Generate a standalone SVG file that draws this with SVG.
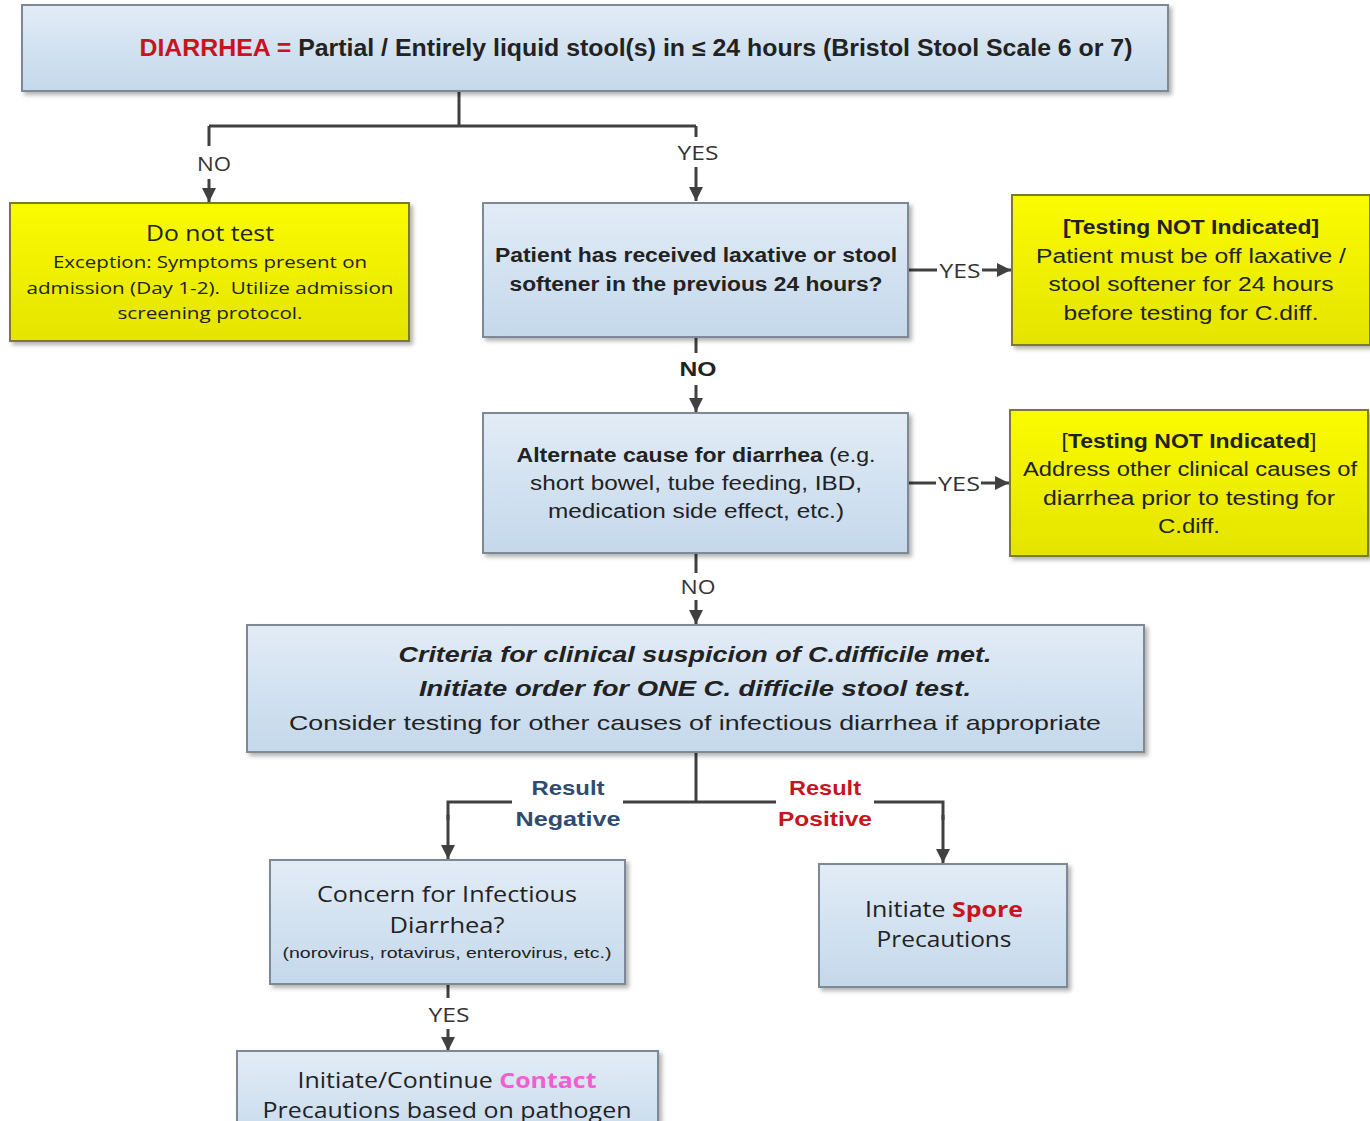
<svg xmlns="http://www.w3.org/2000/svg" width="1370" height="1121" viewBox="0 0 1370 1121">
<defs>
  <linearGradient id="gBlue" x1="0" y1="0" x2="0" y2="1">
    <stop offset="0" stop-color="#e2ecf6"/>
    <stop offset="1" stop-color="#c4d8eb"/>
  </linearGradient>
  <linearGradient id="gYel" x1="0" y1="0" x2="0" y2="1">
    <stop offset="0" stop-color="#fbfb00"/>
    <stop offset="1" stop-color="#e4e400"/>
  </linearGradient>
  <filter id="sh" x="-5%" y="-5%" width="115%" height="125%">
    <feDropShadow dx="3" dy="3" stdDeviation="2" flood-color="#000" flood-opacity="0.3"/>
  </filter>
  <marker id="arr" markerUnits="userSpaceOnUse" markerWidth="16" markerHeight="16" refX="14" refY="7" orient="auto">
    <path d="M0,0 L14,7 L0,14 z" fill="#404040"/>
  </marker>
  <style>
    .blue{fill:url(#gBlue);stroke:#7d8994;stroke-width:2;filter:url(#sh)}
    .yel{fill:url(#gYel);stroke:#7a7a30;stroke-width:2;filter:url(#sh)}
    .ln{fill:none;stroke:#404040;stroke-width:3}
    .ar{fill:none;stroke:#404040;stroke-width:3;marker-end:url(#arr)}
    text{font-family:"Liberation Sans",Arial,sans-serif;fill:#222;text-anchor:middle}
    .os{font-family:"Open Sans","Liberation Sans",sans-serif}
    .b{font-weight:bold}
    .red{fill:#c8141e}
    .navy{fill:#2f4b6e}
    .pink{fill:#ee5fcf}
    .lbl{font-family:"Open Sans","Liberation Sans",sans-serif;font-size:20px;fill:#333}
  </style>
</defs>

<g id="connectors">
  <path class="ln" d="M459,91 V126 M209,126 H696 M209,126 V146 M696,126 V137"/>
  <path class="ar" d="M209,179 V202"/>
  <path class="ar" d="M696,167 V201"/>
  <path class="ln" d="M908,270 H937"/>
  <path class="ar" d="M982,270 H1011"/>
  <path class="ln" d="M696,337 V353"/>
  <path class="ar" d="M696,385 V412"/>
  <path class="ln" d="M908,483 H936"/>
  <path class="ar" d="M981,483 H1009"/>
  <path class="ln" d="M696,553 V573"/>
  <path class="ar" d="M696,600 V624"/>
  <path class="ln" d="M696,752 V802 M696,802 H623 M512,802 H448 V820 M696,802 H776 M874,802 H943 V820"/>
  <path class="ar" d="M448,815 V859"/>
  <path class="ar" d="M943,815 V863"/>
  <path class="ln" d="M448,984 V998"/>
  <path class="ar" d="M448,1029 V1051"/>
  <text class="lbl" x="214" y="171" textLength="34" lengthAdjust="spacingAndGlyphs">NO</text>
  <text class="lbl" x="698" y="160" textLength="41" lengthAdjust="spacingAndGlyphs">YES</text>
  <text class="lbl" x="960" y="278" textLength="41" lengthAdjust="spacingAndGlyphs">YES</text>
  <text class="b" x="698" y="376" font-size="21" textLength="37" lengthAdjust="spacingAndGlyphs">NO</text>
  <text class="lbl" x="959" y="491" textLength="42" lengthAdjust="spacingAndGlyphs">YES</text>
  <text class="lbl" x="698" y="594" textLength="35" lengthAdjust="spacingAndGlyphs">NO</text>
  <text class="b navy" x="568" y="795" font-size="21" textLength="73" lengthAdjust="spacingAndGlyphs">Result</text>
  <text class="b navy" x="568" y="826" font-size="21" textLength="105" lengthAdjust="spacingAndGlyphs">Negative</text>
  <text class="b red" x="825" y="795" font-size="21" textLength="72" lengthAdjust="spacingAndGlyphs">Result</text>
  <text class="b red" x="825" y="826" font-size="21" textLength="94" lengthAdjust="spacingAndGlyphs">Positive</text>
  <text class="lbl" x="449" y="1022" textLength="41" lengthAdjust="spacingAndGlyphs">YES</text>
</g>

<g id="n-diarrhea">
  <rect class="blue" x="22" y="5" width="1146" height="86"/>
  <text class="b" x="636" y="56" font-size="23" textLength="993" lengthAdjust="spacingAndGlyphs"><tspan class="red">DIARRHEA =</tspan> Partial / Entirely liquid stool(s) in ≤ 24 hours (Bristol Stool Scale 6 or 7)</text>
</g>

<g id="n-donottest">
  <rect class="yel" x="10" y="203" width="399" height="138"/>
  <text class="os" x="210" y="241" font-size="22" textLength="128" lengthAdjust="spacingAndGlyphs">Do not test</text>
  <text class="os" x="210" y="268" font-size="17" textLength="314" lengthAdjust="spacingAndGlyphs">Exception: Symptoms present on</text>
  <text class="os" x="210" y="294" font-size="17" textLength="367" lengthAdjust="spacingAndGlyphs" xml:space="preserve">admission (Day 1-2).  Utilize admission</text>
  <text class="os" x="210" y="319" font-size="17" textLength="185" lengthAdjust="spacingAndGlyphs">screening protocol.</text>
</g>

<g id="n-laxative">
  <rect class="blue" x="483" y="203" width="425" height="134"/>
  <text class="b" x="696" y="262" font-size="20" textLength="402" lengthAdjust="spacingAndGlyphs">Patient has received laxative or stool</text>
  <text class="b" x="696" y="291" font-size="20" textLength="373" lengthAdjust="spacingAndGlyphs">softener in the previous 24 hours?</text>
</g>

<g id="n-notindicated1">
  <rect class="yel" x="1012" y="195" width="358" height="150"/>
  <text class="b" x="1191" y="234" font-size="20" textLength="256" lengthAdjust="spacingAndGlyphs">[Testing NOT Indicated]</text>
  <text x="1191" y="263" font-size="20" textLength="310" lengthAdjust="spacingAndGlyphs">Patient must be off laxative /</text>
  <text x="1191" y="291" font-size="20" textLength="285" lengthAdjust="spacingAndGlyphs">stool softener for 24 hours</text>
  <text x="1191" y="320" font-size="20" textLength="255" lengthAdjust="spacingAndGlyphs">before testing for C.diff.</text>
</g>

<g id="n-alternate">
  <rect class="blue" x="483" y="413" width="425" height="140"/>
  <text x="696" y="462" font-size="20" textLength="359" lengthAdjust="spacingAndGlyphs"><tspan class="b">Alternate cause for diarrhea</tspan> (e.g.</text>
  <text x="696" y="490" font-size="20" textLength="332" lengthAdjust="spacingAndGlyphs">short bowel, tube feeding, IBD,</text>
  <text x="696" y="518" font-size="20" textLength="296" lengthAdjust="spacingAndGlyphs">medication side effect, etc.)</text>
</g>

<g id="n-notindicated2">
  <rect class="yel" x="1010" y="410" width="358" height="146"/>
  <text x="1189" y="448" font-size="20" textLength="255" lengthAdjust="spacingAndGlyphs">[<tspan class="b">Testing NOT Indicated</tspan>]</text>
  <text x="1190" y="476" font-size="20" textLength="334" lengthAdjust="spacingAndGlyphs">Address other clinical causes of</text>
  <text x="1189" y="505" font-size="20" textLength="292" lengthAdjust="spacingAndGlyphs">diarrhea prior to testing for</text>
  <text x="1189" y="533" font-size="20" textLength="62" lengthAdjust="spacingAndGlyphs">C.diff.</text>
</g>

<g id="n-criteria">
  <rect class="blue" x="247" y="625" width="897" height="127"/>
  <text class="b" x="695" y="662" font-size="22" font-style="italic" textLength="593" lengthAdjust="spacingAndGlyphs">Criteria for clinical suspicion of C.difficile met.</text>
  <text class="b" x="695" y="696" font-size="22" font-style="italic" textLength="552" lengthAdjust="spacingAndGlyphs">Initiate order for ONE C. difficile stool test.</text>
  <text x="695" y="730" font-size="21" textLength="812" lengthAdjust="spacingAndGlyphs">Consider testing for other causes of infectious diarrhea if appropriate</text>
</g>

<g id="n-concern">
  <rect class="blue" x="270" y="860" width="355" height="124"/>
  <text class="os" x="447" y="902" font-size="21" textLength="260" lengthAdjust="spacingAndGlyphs">Concern for Infectious</text>
  <text class="os" x="447" y="933" font-size="21" textLength="115" lengthAdjust="spacingAndGlyphs">Diarrhea?</text>
  <text x="447" y="958" font-size="15" textLength="329" lengthAdjust="spacingAndGlyphs">(norovirus, rotavirus, enterovirus, etc.)</text>
</g>

<g id="n-spore">
  <rect class="blue" x="819" y="864" width="248" height="123"/>
  <text class="os" x="944" y="917" font-size="21" textLength="158" lengthAdjust="spacingAndGlyphs">Initiate <tspan class="b red">Spore</tspan></text>
  <text class="os" x="944" y="947" font-size="21" textLength="135" lengthAdjust="spacingAndGlyphs">Precautions</text>
</g>

<g id="n-contact">
  <rect class="blue" x="237" y="1051" width="421" height="100"/>
  <text class="os" x="447" y="1088" font-size="21" textLength="299" lengthAdjust="spacingAndGlyphs">Initiate/Continue <tspan class="b pink">Contact</tspan></text>
  <text class="os" x="447" y="1118" font-size="21" textLength="369" lengthAdjust="spacingAndGlyphs">Precautions based on pathogen</text>
</g>
</svg>
